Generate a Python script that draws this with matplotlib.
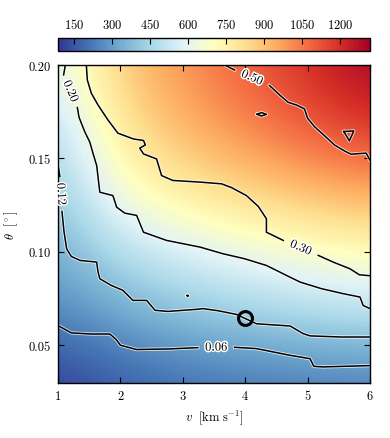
import numpy as np
import matplotlib
matplotlib.use('Agg')
import matplotlib.pyplot as plt
import matplotlib.patheffects as pe

plt.rcParams['font.family'] = 'serif'
plt.rcParams['font.serif'] = ['cmr10', 'DejaVu Serif']
plt.rcParams['mathtext.fontset'] = 'cm'
plt.rcParams['axes.formatter.use_mathtext'] = True
plt.rcParams['axes.unicode_minus'] = False

# colour field, rows = theta, cols = v
v_grid = [1, 2, 3, 4, 5, 6]
theta_grid = [0.03, 0.064, 0.098, 0.132, 0.166, 0.20]
field = [
    [100, 160, 195, 210, 220, 225],
    [240, 310, 370, 410, 440, 460],
    [330, 470, 550, 610, 660, 700],
    [410, 670, 780, 850, 910, 960],
    [480, 800, 930, 1020, 1110, 1180],
    [600, 880, 1000, 1100, 1200, 1310],
]
vmin, vmax = 87, 1318
cbar_ticks = [150, 300, 450, 600, 750, 900, 1050, 1200]

# contour lines (nan = label gap)
nan = np.nan
v_006 = [1.0, 1.214, 1.534, 1.83, 1.935, 2.0, 2.26, 2.76, 3.24, nan,
         3.83, 4.18, 4.72, 5.04, 5.10, 5.25, 6.0]
t_006 = [0.0605, 0.0566, 0.056, 0.056, 0.053, 0.050, 0.0477, 0.048, 0.0487, nan,
         0.0489, 0.0482, 0.0446, 0.0428, 0.0387, 0.0384, 0.0391]

v_012 = [1.0, 1.03, nan, 1.064, 1.096, 1.139, 1.214, 1.353, 1.62, 1.64, 1.67,
         1.855, 2.04, 2.20, 2.42, 2.555, 2.76, 3.22, 3.32, 3.56, 3.86, 4.18,
         4.72, 4.93, 5.04, 5.54, 6.0]
t_012 = [0.1465, 0.1403, nan, 0.1216, 0.1109, 0.1016, 0.0975, 0.0954, 0.0945,
         0.0895, 0.0856, 0.082, 0.0794, 0.074, 0.074, 0.0687, 0.0681, 0.0692,
         0.0696, 0.0685, 0.0665, 0.0615, 0.0603, 0.0562, 0.055, 0.0544, 0.0544]

v_020 = [1.118, 1.09, nan, 1.31, 1.337, 1.427, 1.51, 1.56, 1.62, 1.67, 1.88,
         1.94, 2.07, 2.26, 2.31, 2.37, 2.74, 3.28, 3.64, 3.99, 4.34, 4.69,
         4.88, 5.22, 5.57, 5.84, 5.89, 6.0]
t_020 = [0.200, 0.1947, nan, 0.1772, 0.172, 0.1644, 0.1587, 0.1528, 0.1462,
         0.1319, 0.1301, 0.1239, 0.1207, 0.1195, 0.1154, 0.1105, 0.1061,
         0.1025, 0.0990, 0.0963, 0.0927, 0.0869, 0.0838, 0.0803, 0.0776,
         0.0758, 0.0713, 0.0696]

v_030 = [1.454, 1.47, 1.534, 1.641, 1.80, 1.96, 2.21, 2.37, 2.40, 2.31, 2.37,
         2.58, 2.66, 2.84, 3.28, 3.62, 3.78, 4.02, 4.21, 4.34, 4.34, 4.61, nan,
         5.17, 5.41, 5.68, 5.83, 6.0]
t_030 = [0.200, 0.192, 0.1849, 0.1786, 0.1706, 0.1635, 0.1604, 0.1596, 0.1572,
         0.1555, 0.1524, 0.1497, 0.1408, 0.1382, 0.1373, 0.1364, 0.1344,
         0.1301, 0.1243, 0.1177, 0.1105, 0.1061, nan, 0.0981, 0.0945, 0.0909,
         0.0877, 0.0872]

v_050 = [3.67, 3.83, nan, 4.39, 4.55, 4.69, 4.82, 4.95, 5.00, 5.11, 5.27, 5.43,
         5.59, 5.70, 5.83, 5.94, 6.0]
t_050 = [0.200, 0.1973, nan, 0.189, 0.184, 0.180, 0.1786, 0.1765, 0.1715,
         0.167, 0.1622, 0.1572, 0.154, 0.1522, 0.1526, 0.1528, 0.149]

# small closed contours
v_loop1 = [4.19, 4.26, 4.34, 4.26, 4.19]
t_loop1 = [0.1736, 0.1745, 0.1736, 0.1727, 0.1736]
v_loop2 = [5.58, 5.74, 5.67, 5.58]
t_loop2 = [0.1644, 0.1647, 0.1594, 0.1644]
v_loop3 = [3.07, 3.09, 3.08, 3.07]
t_loop3 = [0.0766, 0.0766, 0.0762, 0.0766]

levels = [(v_006, t_006, '0.06'), (v_012, t_012, '0.12'), (v_020, t_020, '0.20'),
          (v_030, t_030, '0.30'), (v_050, t_050, '0.50')]
loops = [(v_loop1, t_loop1), (v_loop2, t_loop2), (v_loop3, t_loop3)]

marker_v, marker_t = 4.0, 0.0648

fig = plt.figure(figsize=(3.9, 4.39), dpi=100)
ax = fig.add_axes([0.1487, 0.1262, 0.8, 0.7235])
cax = fig.add_axes([0.1487, 0.8809, 0.8, 0.0296])

# grid points sit at pixel centres
dv = v_grid[1] - v_grid[0]
dt = theta_grid[1] - theta_grid[0]
ext = (v_grid[0] - dv / 2, v_grid[-1] + dv / 2,
       theta_grid[0] - dt / 2, theta_grid[-1] + dt / 2)
img = ax.imshow(np.array(field), origin='lower', extent=ext, aspect='auto',
                interpolation='bicubic', cmap='RdYlBu_r', vmin=vmin, vmax=vmax)
ax.set_xlim(1, 6)
ax.set_ylim(0.03, 0.20)

line_fx = [pe.Stroke(linewidth=2.4, foreground=(1, 1, 1, 0.75)), pe.Normal()]
text_fx = [pe.withStroke(linewidth=2.2, foreground='w')]

for vv, tt, lab in levels:
    ax.plot(vv, tt, color='k', lw=1.1, path_effects=line_fx)
    i = [k for k, x in enumerate(vv) if np.isnan(x)][0]
    p1 = ax.transData.transform((vv[i - 1], tt[i - 1]))
    p2 = ax.transData.transform((vv[i + 1], tt[i + 1]))
    ang = np.degrees(np.arctan2(p2[1] - p1[1], p2[0] - p1[0]))
    if ang > 90:
        ang -= 180
    if ang < -90:
        ang += 180
    mid = ax.transData.inverted().transform((p1 + p2) / 2)
    ax.text(mid[0], mid[1], lab, rotation=ang, rotation_mode='anchor',
            ha='center', va='center', fontsize=9, color='k',
            path_effects=text_fx, zorder=5)

for vv, tt in loops:
    ax.plot(vv, tt, color='k', lw=1.1, path_effects=line_fx)

ax.plot([marker_v], [marker_t], 'o', mfc='none', mec='k', ms=10, mew=2.2, zorder=6)

ax.set_xticks([1, 2, 3, 4, 5, 6])
ax.set_yticks([0.05, 0.10, 0.15, 0.20])
ax.yaxis.set_major_formatter(matplotlib.ticker.FormatStrFormatter('%.2f'))
ax.xaxis.set_major_formatter(matplotlib.ticker.FormatStrFormatter('%d'))
ax.tick_params(direction='in', top=True, right=True, length=4.5, width=0.8,
               labelsize=9, pad=5)
for s in ax.spines.values():
    s.set_linewidth(1.0)
ax.set_xlabel(r'$v\ \ [\mathrm{km\ s^{-1}}]$', fontsize=9, labelpad=4)
ax.set_ylabel(r'$\theta\ \ [^\circ]$', fontsize=9, labelpad=6)

cb = fig.colorbar(img, cax=cax, orientation='horizontal', ticks=cbar_ticks)
cax.xaxis.set_ticks_position('top')
cax.xaxis.set_label_position('top')
cax.tick_params(direction='in', length=4, width=0.8, labelsize=9, pad=5)
cb.outline.set_linewidth(1.0)

fig.savefig('out.png', dpi=100)
